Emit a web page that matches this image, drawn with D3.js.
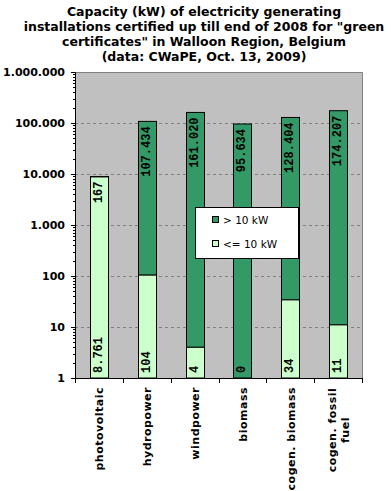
<!DOCTYPE html>
<html>
<head>
<meta charset="utf-8">
<script src="https://cdn.jsdelivr.net/npm/d3@7"></script>
<style>
  body { margin: 0; background: #fff; }
  svg { display: block; }
</style>
</head>
<body>
<svg width="391" height="491"></svg>
<script>
// data (kW)
var titleLines = [
  "Capacity (kW) of electricity generating",
  "installations certified up till end of 2008 for \"green",
  "certificates\" in Walloon Region, Belgium",
  "(data: CWaPE, Oct. 13, 2009)"
];
var categories = ["photovoltaic", "hydropower", "windpower", "biomass", "cogen. biomass", "cogen. fossil fuel"];
var small = [8761, 104, 4, 0, 34, 11];            // <= 10 kW
var large = [167, 107434, 161020, 95634, 128404, 174207]; // > 10 kW
var seriesNames = ["> 10 kW", "<= 10 kW"];
var yTicks = [1, 10, 100, 1000, 10000, 100000, 1000000];

var svg = d3.select("svg");
var pL = 75, pR = 362, pT = 72, pB = 378;

var x = d3.scaleBand().domain(categories).range([pL, pR]);
var y = d3.scaleLog().domain([1, 1000000]).range([pB, pT]);

var loc = d3.formatLocale({decimal: ",", thousands: ".", grouping: [3], currency: ["", ""]});
var fmt = loc.format(",");

// title
svg.append("g").selectAll("text")
  .data(titleLines)
  .enter().append("text")
  .attr("x", 204)
  .attr("y", function(d, i) { return 16 + i * 15; })
  .attr("text-anchor", "middle")
  .style("font-family", "DejaVu Sans, Verdana, sans-serif")
  .style("font-weight", "bold")
  .style("font-size", "12.5px")
  .text(function(d) { return d; });

// plot background
svg.append("rect")
  .attr("x", pL).attr("y", pT)
  .attr("width", pR - pL).attr("height", pB - pT)
  .attr("fill", "#c0c0c0")
  .attr("stroke", "none");
svg.append("path")
  .attr("d", "M" + pL + "," + (pT + 0.5) + "H" + (pR + 0.5) + "V" + pB)
  .attr("fill", "none")
  .attr("stroke", "#808080");

// gridlines
svg.append("g").selectAll("line")
  .data(yTicks.slice(1, -1))
  .enter().append("line")
  .attr("x1", pL).attr("x2", pR)
  .attr("y1", function(d) { return Math.round(y(d)) + 0.5; })
  .attr("y2", function(d) { return Math.round(y(d)) + 0.5; })
  .attr("stroke", "#808080")
  .attr("stroke-dasharray", "3,3");

// stacked bars
var barW = 18;
var rows = categories.map(function(c, i) {
  return {cat: c, small: small[i], large: large[i], total: small[i] + large[i]};
});

var bars = svg.append("g").selectAll("g")
  .data(rows)
  .enter().append("g");

bars.append("rect")
  .attr("x", function(d) { return Math.round(x(d.cat) + x.bandwidth() / 2 - barW / 2) + 0.5; })
  .attr("y", function(d) { return y(d.total); })
  .attr("width", barW)
  .attr("height", function(d) { return y(Math.max(1, d.small)) - y(d.total); })
  .attr("fill", "#339966")
  .attr("stroke", "#000");

bars.filter(function(d) { return d.small > 1; })
  .append("rect")
  .attr("x", function(d) { return Math.round(x(d.cat) + x.bandwidth() / 2 - barW / 2) + 0.5; })
  .attr("y", function(d) { return y(d.small); })
  .attr("width", barW)
  .attr("height", function(d) { return y(1) - y(d.small); })
  .attr("fill", "#ccffcc")
  .attr("stroke", "#000");

var valStyle = function(sel) {
  sel.style("font-family", "Liberation Mono, Courier New, monospace")
    .style("font-weight", "bold")
    .style("font-size", "12px")
    .attr("dominant-baseline", "central");
};

// > 10 kW labels, inside end of stack
bars.append("text")
  .attr("transform", function(d) {
    return "translate(" + (x(d.cat) + x.bandwidth() / 2) + "," + (y(d.total) + 5) + ") rotate(-90)";
  })
  .attr("text-anchor", "end")
  .call(valStyle)
  .text(function(d) { return fmt(d.large); });

// <= 10 kW labels, inside base
bars.append("text")
  .attr("transform", function(d) {
    return "translate(" + (x(d.cat) + x.bandwidth() / 2) + "," + (pB - 5) + ") rotate(-90)";
  })
  .attr("text-anchor", "start")
  .call(valStyle)
  .text(function(d) { return fmt(d.small); });

// y axis
var yAxis = svg.append("g")
  .attr("transform", "translate(" + pL + ",0)")
  .call(d3.axisLeft(y).tickValues(yTicks).tickFormat(fmt).tickSize(4).tickPadding(6));
yAxis.select(".domain").attr("stroke", "#000");
yAxis.selectAll("text")
  .style("font-family", "DejaVu Sans, Verdana, sans-serif")
  .style("font-weight", "bold")
  .style("font-size", "11px")
  .attr("fill", "#000");

// minor ticks
var minor = [];
yTicks.slice(0, -1).forEach(function(t) {
  for (var k = 2; k < 10; k++) minor.push(t * k);
});
svg.append("g").selectAll("line")
  .data(minor)
  .enter().append("line")
  .attr("x1", pL - 2).attr("x2", pL)
  .attr("y1", function(d) { return Math.round(y(d)) + 0.5; })
  .attr("y2", function(d) { return Math.round(y(d)) + 0.5; })
  .attr("stroke", "#000");

// x axis
svg.append("line")
  .attr("x1", pL).attr("x2", pR + 1)
  .attr("y1", pB + 0.5).attr("y2", pB + 0.5)
  .attr("stroke", "#000");
var bounds = categories.map(function(c) { return x(c); }).concat([pR]);
svg.append("g").selectAll("line")
  .data(bounds)
  .enter().append("line")
  .attr("x1", function(d) { return Math.round(d) + 0.5; })
  .attr("x2", function(d) { return Math.round(d) + 0.5; })
  .attr("y1", pB).attr("y2", pB + 5)
  .attr("stroke", "#000");

// category labels, rotated, long one on two lines
categories.forEach(function(c) {
  var lines = [c];
  if (c.length > 15) {
    var k = c.lastIndexOf(" ");
    lines = [c.slice(0, k), c.slice(k + 1)];
  }
  var cx = x(c) + x.bandwidth() / 2 + 1;
  lines.forEach(function(l, i) {
    var off = (i - (lines.length - 1) / 2) * 13;
    svg.append("text")
      .attr("transform", "translate(" + (cx + off) + ",387) rotate(-90)")
      .attr("text-anchor", lines.length > 1 ? "middle" : "end")
      .attr("dx", lines.length > 1 ? -43 : 0)
      .attr("dominant-baseline", "central")
      .style("font-family", "DejaVu Sans, Verdana, sans-serif")
      .style("font-weight", "bold")
      .style("font-size", "11px")
      .style("letter-spacing", "0.5px")
      .text(l);
  });
});

// legend
var lg = svg.append("g").attr("transform", "translate(195,207)");
lg.append("rect")
  .attr("x", 0.5).attr("y", 0.5)
  .attr("width", 103).attr("height", 51)
  .attr("fill", "#fff").attr("stroke", "#000");
var legendColors = ["#339966", "#ccffcc"];
seriesNames.forEach(function(s, i) {
  lg.append("rect")
    .attr("x", 17.5).attr("y", 9.5 + i * 24)
    .attr("width", 6).attr("height", 6)
    .attr("fill", legendColors[i]).attr("stroke", "#000");
  lg.append("text")
    .attr("x", 28).attr("y", 13 + i * 24)
    .attr("dominant-baseline", "central")
    .style("font-family", "DejaVu Sans, Verdana, sans-serif")
    .style("font-size", "10.5px")
    .text(s);
});
</script>
</body>
</html>
